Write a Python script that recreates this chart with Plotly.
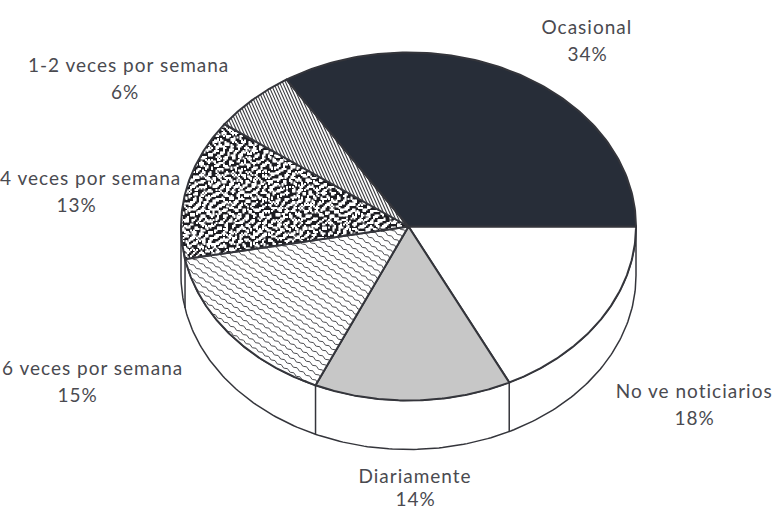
import numpy as np
import plotly.graph_objects as go

categories = ["No ve noticiarios", "Diariamente", "5-6 veces por semana",
              "3-4 veces por semana", "1-2 veces por semana", "Ocasional"]
shown_labels = ["No ve noticiarios", "Diariamente", "6 veces por semana",
                "4 veces por semana", "1-2 veces por semana", "Ocasional"]
percent_labels = [18, 14, 15, 13, 6, 34]
# slice shares as measured on the drawing (printed figures are rounded)
values = [17.7, 14.0, 15.3, 13.0, 6.0, 34.0]

CX, CY, RX, RY, DEPTH = 408.5, 226.5, 227.5, 174, 49
INK = "#34353b"
DARK = "#272d38"

def ell(t, dy=0):
    return CX + RX*np.cos(t), CY + RY*np.sin(t) + dy

edges = np.deg2rad(np.concatenate([[0], np.cumsum(values)]) * 3.6)

def pat(shape, size, solidity, fg, bg="rgba(0,0,0,0)"):
    return dict(fillpattern=dict(shape=shape, size=size, solidity=solidity, fgcolor=fg, bgcolor=bg, fillmode="replace"))

fills = {
    "No ve noticiarios": dict(fillcolor="white"),
    "Diariamente": pat(".", 2, 0.5, "#999999", "#ececec"),
    "5-6 veces por semana": dict(fillcolor="white"),
    "3-4 veces por semana": dict(fillcolor="#1d1d22"),
    "1-2 veces por semana": dict(fillcolor="white"),
    "Ocasional": dict(fillcolor=DARK),
}

def in_slice(x, y, a0, a1):
    u, v = (x-CX)/RX, (y-CY)/RY
    ang = np.mod(np.arctan2(v, u), 2*np.pi)
    return (u*u + v*v <= 1) & (ang >= a0) & (ang <= a1)

def hatch(a0, a1, angle_deg, spacing, amp=0.0, wavelength=7.0):
    d = np.array([np.cos(np.deg2rad(angle_deg)), np.sin(np.deg2rad(angle_deg))])
    n = np.array([-d[1], d[0]])
    xs, ys = [], []
    s = np.arange(-330, 330, 0.5)
    for k in np.arange(-330, 330, spacing):
        w = k + amp*np.sin(2*np.pi*s/wavelength)
        x = CX + s*d[0] + w*n[0]
        y = CY + s*d[1] + w*n[1]
        inside = in_slice(x, y, a0, a1)
        if inside.any():
            xs.append(np.where(inside, x, np.nan)); ys.append(np.where(inside, y, np.nan))
            xs.append([np.nan]); ys.append([np.nan])
    return np.concatenate(xs), np.concatenate(ys)

def mottle(a0, a1, step=1.5, level=0.45):
    gx, gy = np.meshgrid(np.arange(170, 420, step), np.arange(100, 280, step))
    gx, gy = gx.ravel(), gy.ravel()
    tex = (np.sin(0.83*gx + 3.1*np.sin(0.37*gy + 0.6*np.sin(0.19*gx)))
           + np.sin(1.07*gy + 2.7*np.sin(0.29*gx + 0.8*np.sin(0.23*gy)))
           + np.sin(0.71*(gx+gy) + 2.3*np.sin(0.17*(gx-gy)))
           + 0.8*np.sin(1.9*gx - 1.3*gy + 1.9*np.sin(0.41*gy)))
    keep = in_slice(gx, gy, a0, a1) & (tex > level)
    return gx[keep], gy[keep]

hatches = {
    "5-6 veces por semana": dict(angle_deg=33, spacing=6.0, amp=0.9, wavelength=7.5, color="#4c4c50", width=1.0),
    "1-2 veces por semana": dict(angle_deg=66, spacing=2.8, amp=0.0, wavelength=7.0, color="#3c3c40", width=1.1),
}

fig = go.Figure()

# side wall
t = np.linspace(0, np.pi, 200)
xt, yt = ell(t)
xb, yb = ell(t, DEPTH)
fig.add_trace(go.Scatter(x=np.r_[xb, xt[::-1], xb[0]], y=np.r_[yb, yt[::-1], yb[0]], mode="lines",
                         fill="toself", fillcolor="white",
                         line=dict(color=INK, width=1.5), hoverinfo="skip"))

# vertical wall seams on the front half
for a in edges:
    if 0 < a < np.pi:
        x0, y0 = ell(a)
        x1, y1 = ell(a, DEPTH)
        fig.add_trace(go.Scatter(x=[x0, x1], y=[y0, y1], mode="lines",
                                 line=dict(color=INK, width=1.5), hoverinfo="skip"))

# top-face slices
for name, a0, a1 in zip(categories, edges[:-1], edges[1:]):
    t = np.linspace(a0, a1, 120)
    ex, ey = ell(t)
    px, py = np.r_[CX, ex, CX], np.r_[CY, ey, CY]
    fig.add_trace(go.Scatter(x=px, y=py, mode="none", fill="toself", hoverinfo="skip", **fills[name]))
    if name in hatches:
        h = hatches[name]
        hx, hy = hatch(a0, a1, h["angle_deg"], h["spacing"], h["amp"], h["wavelength"])
        fig.add_trace(go.Scatter(x=hx, y=hy, mode="lines", hoverinfo="skip",
                                 line=dict(color=h["color"], width=h["width"])))
    if name == "3-4 veces por semana":
        mx, my = mottle(a0, a1)
        fig.add_trace(go.Scatter(x=mx, y=my, mode="markers", hoverinfo="skip",
                                 marker=dict(symbol="square", size=2.0, color="white", line=dict(width=0))))
    fig.add_trace(go.Scatter(x=px, y=py, mode="lines", line=dict(color=INK, width=2),
                             name=name, hoverinfo="name"))

label_pos = {
    "No ve noticiarios": (694, 390, 694, 417),
    "Diariamente": (415, 475, 415, 498),
    "5-6 veces por semana": (92, 367, 77, 394),
    "3-4 veces por semana": (90, 177, 76, 204),
    "1-2 veces por semana": (128, 64, 125, 91),
    "Ocasional": (587, 26, 587, 53),
}
for name, shown, v in zip(categories, shown_labels, percent_labels):
    x1, y1, x2, y2 = label_pos[name]
    for x, y, s in ((x1, y1, shown), (x2, y2, f"{v}%")):
        fig.add_annotation(x=x, y=y, text=s, showarrow=False, xanchor="center", yanchor="middle",
                           font=dict(family="Lato", size=19, color="#4a4a50"))

fig.update_layout(width=778, height=511, margin=dict(l=0, r=0, t=0, b=0), showlegend=False,
                  paper_bgcolor="white", plot_bgcolor="white",
                  xaxis=dict(range=[0, 778], visible=False, fixedrange=True),
                  yaxis=dict(range=[511, 0], visible=False, fixedrange=True))
post = """
document.body.style.margin = '0';
var st = document.createElement('style');
st.textContent = '.annotation-text{letter-spacing:1px;}';
document.head.appendChild(st);
"""
fig.write_html("out.html", config=dict(displayModeBar=False), post_script=post)
